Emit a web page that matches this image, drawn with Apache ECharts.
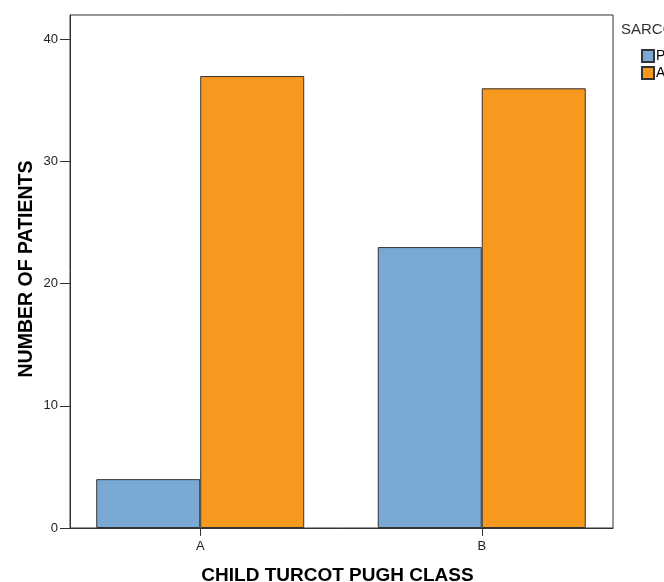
<!DOCTYPE html>
<html><head><meta charset="utf-8">
<script src="https://cdn.jsdelivr.net/npm/echarts@6/dist/echarts.min.js"></script>
<style>html,body{margin:0;padding:0;background:#fff;}#c{width:664px;height:582px;}</style>
</head><body><div id="c"></div>
<script>
const categories = ['A', 'B'];
const seriesNames = ['PRESENT', 'ABSENT'];
const presentValues = [4, 23];
const absentValues = [37, 36];
const yTicks = [0, 10, 20, 30, 40];
const legendTitle = 'SARCOPENIA';

const chart = echarts.init(document.getElementById('c'), null, {renderer: 'canvas'});
const toData = vals => vals.map((v, i) => [i, v]);
const font = 'Liberation Sans, Arial, sans-serif';
chart.setOption({
  animation: false,
  backgroundColor: '#fff',
  title: {text: legendTitle, left: 621, top: 22, padding: 0, textStyle: {fontFamily: font, fontSize: 15, fontWeight: 'normal', color: '#333'}},
  legend: {
    orient: 'vertical', left: 641, top: 49, padding: 0, itemWidth: 12, itemHeight: 12, itemGap: 3,
    icon: 'rect', textStyle: {fontFamily: font, fontSize: 14, color: '#000', padding: [0,0,0,-3]},
    data: seriesNames
  },
  grid: {left: 70, right: 51, top: 15, bottom: 54, outerBoundsMode: 'none', containLabel: false, show: true, borderColor: '#333', borderWidth: 1, backgroundColor: 'transparent'},
  xAxis: {
    type: 'value', min: -0.4626, max: 1.4662,
    name: 'CHILD TURCOT PUGH CLASS', nameLocation: 'middle', nameGap: 38, nameMoveOverlap: false,
    nameTextStyle: {fontFamily: font, fontSize: 19, fontWeight: 'bold', color: '#000', padding: [0, 8, 0, 0]},
    splitLine: {show: false},
    axisLine: {show: true, onZero: false, lineStyle: {color: '#333'}},
    axisTick: {show: true, length: 8, customValues: [0, 1], lineStyle: {color: '#333'}},
    axisLabel: {customValues: [0, 1], formatter: v => categories[Math.round(v)], fontFamily: font, fontSize: 13, color: '#222', margin: 12}
  },
  yAxis: {
    type: 'value', min: 0, max: 42,
    name: 'NUMBER OF PATIENTS', nameLocation: 'middle', nameGap: 33, nameMoveOverlap: false,
    nameTextStyle: {fontFamily: font, fontSize: 19.5, fontWeight: 'bold', color: '#000', align: 'center', verticalAlign: 'bottom', padding: [0, 0, 0, 5]},
    splitLine: {show: false},
    axisLine: {show: true, onZero: false, lineStyle: {color: '#333'}},
    axisTick: {show: true, length: 10, customValues: yTicks, lineStyle: {color: '#333'}},
    axisLabel: {customValues: yTicks, fontFamily: font, fontSize: 13, color: '#222', margin: 12}
  },
  series: [
    {name: seriesNames[0], type: 'bar', data: toData(presentValues), barWidth: 104, barGap: '0%',
     itemStyle: {color: '#79a8d5', borderColor: '#333', borderWidth: 1}},
    {name: seriesNames[1], type: 'bar', data: toData(absentValues), barWidth: 104, barGap: '0%',
     itemStyle: {color: '#f7991f', borderColor: '#333', borderWidth: 1}}
  ]
});
</script></body></html>
